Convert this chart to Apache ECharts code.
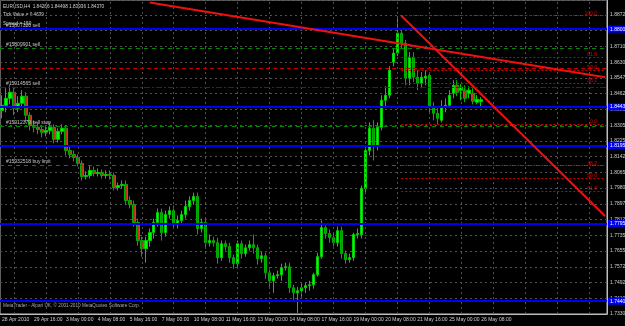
<!DOCTYPE html>
<html>
<head>
<meta charset="utf-8">
<script src="https://cdn.jsdelivr.net/npm/echarts@6/dist/echarts.min.js"></script>
<style>
html, body {margin: 0; padding: 0; background: #000;}
#main {width: 625px; height: 326px;}
</style>
</head>
<body>
<div id="main"></div>
<script>
// time labels, one every 8 H4 bars
var xLabels = ['28 Apr 2010', '29 Apr 16:00', '3 May 00:00', '4 May 08:00', '5 May 16:00', '7 May 00:00', '10 May 08:00', '11 May 16:00',
    '13 May 00:00', '14 May 08:00', '17 May 16:00', '19 May 00:00', '20 May 08:00', '21 May 16:00', '25 May 00:00', '26 May 08:00'];
// price scale labels, bottom to top
var yLabels = ['1.73300', '1.74100', '1.74925', '1.75725', '1.76550', '1.77350', '1.78125', '1.78975', '1.79800', '1.80650',
    '1.81425', '1.82250', '1.83050', '1.83850', '1.84625', '1.85475', '1.86300', '1.87100', '1.87900', '1.88725'];

var opens = [1.8382, 1.8408, 1.8444, 1.8475, 1.8393, 1.8419, 1.8455, 1.8357, 1.8305, 1.8295,
    1.8284, 1.8269, 1.8279, 1.8295, 1.8233, 1.8274, 1.8290, 1.8176, 1.8155, 1.8140,
    1.8109, 1.8042, 1.8047, 1.8073, 1.8057, 1.8062, 1.8047, 1.8052, 1.8047, 1.7985,
    1.7995, 1.8001, 1.7918, 1.7897, 1.7805, 1.7712, 1.7670, 1.7712, 1.7753, 1.7805,
    1.7856, 1.7753, 1.7846, 1.7866, 1.7794, 1.7815, 1.7846, 1.7887, 1.7918, 1.7939,
    1.7774, 1.7805, 1.7701, 1.7712, 1.7701, 1.7624, 1.7696, 1.7681, 1.7624, 1.7593,
    1.7696, 1.7645, 1.7675, 1.7691, 1.7675, 1.7619, 1.7634, 1.7546, 1.7505, 1.7531,
    1.7536, 1.7572, 1.7577, 1.7469, 1.7443, 1.7454, 1.7469, 1.7480, 1.7485, 1.7536,
    1.7629, 1.7779, 1.7748, 1.7727, 1.7701, 1.7763, 1.7645, 1.7614, 1.7624, 1.7743,
    1.7743, 1.7980, 1.8176, 1.8290, 1.8202, 1.8295, 1.8434, 1.8460, 1.8630, 1.8677,
    1.8780, 1.8728, 1.8548, 1.8656, 1.8553, 1.8522, 1.8548, 1.8563, 1.8398, 1.8367,
    1.8331, 1.8398, 1.8408, 1.8470, 1.8511, 1.8486, 1.8486, 1.8470, 1.8470, 1.8424,
    1.84266];
var closes = [1.8408, 1.8444, 1.8475, 1.8393, 1.8419, 1.8455, 1.8357, 1.8305, 1.8295, 1.8284,
    1.8269, 1.8279, 1.8295, 1.8233, 1.8274, 1.8290, 1.8176, 1.8155, 1.8140, 1.8109,
    1.8042, 1.8047, 1.8073, 1.8057, 1.8062, 1.8047, 1.8052, 1.8047, 1.7985, 1.7995,
    1.8001, 1.7918, 1.7897, 1.7805, 1.7712, 1.7670, 1.7712, 1.7753, 1.7805, 1.7856,
    1.7753, 1.7846, 1.7866, 1.7794, 1.7815, 1.7846, 1.7887, 1.7918, 1.7939, 1.7774,
    1.7805, 1.7701, 1.7712, 1.7701, 1.7624, 1.7696, 1.7681, 1.7624, 1.7593, 1.7696,
    1.7645, 1.7675, 1.7691, 1.7675, 1.7619, 1.7634, 1.7546, 1.7505, 1.7531, 1.7536,
    1.7572, 1.7577, 1.7469, 1.7443, 1.7454, 1.7469, 1.7480, 1.7485, 1.7536, 1.7629,
    1.7779, 1.7748, 1.7727, 1.7701, 1.7763, 1.7645, 1.7614, 1.7624, 1.7743, 1.7748,
    1.7980, 1.8176, 1.8290, 1.8202, 1.8295, 1.8434, 1.8460, 1.8589, 1.8677, 1.8780,
    1.8728, 1.8548, 1.8656, 1.8553, 1.8522, 1.8553, 1.8558, 1.8398, 1.8367, 1.8341,
    1.8398, 1.8408, 1.8460, 1.8511, 1.8475, 1.8501, 1.8444, 1.8486, 1.8429, 1.8439,
    1.84370];
var lows = [1.8341, 1.8372, 1.8413, 1.8357, 1.8372, 1.8393, 1.8320, 1.8279, 1.8269, 1.8259,
    1.8243, 1.8248, 1.8259, 1.8212, 1.8217, 1.8259, 1.8150, 1.8135, 1.8119, 1.8093,
    1.8021, 1.8026, 1.8031, 1.8042, 1.8042, 1.8031, 1.8031, 1.8026, 1.7970, 1.7970,
    1.7980, 1.7897, 1.7877, 1.7784, 1.7686, 1.7629, 1.7598, 1.7681, 1.7722, 1.7784,
    1.7712, 1.7732, 1.7825, 1.7774, 1.7774, 1.7794, 1.7825, 1.7866, 1.7897, 1.7743,
    1.7753, 1.7670, 1.7681, 1.7681, 1.7593, 1.7608, 1.7660, 1.7598, 1.7567, 1.7577,
    1.7619, 1.7629, 1.7660, 1.7645, 1.7588, 1.7598, 1.7516, 1.7474, 1.7443, 1.7516,
    1.7505, 1.7557, 1.7443, 1.7402, 1.7340, 1.7423, 1.7443, 1.7454, 1.7464, 1.7526,
    1.7619, 1.7722, 1.7701, 1.7681, 1.7681, 1.7619, 1.7593, 1.7598, 1.7608, 1.7722,
    1.7722, 1.7959, 1.8150, 1.8124, 1.8176, 1.8279, 1.8393, 1.8444, 1.8609, 1.8661,
    1.8702, 1.8511, 1.8511, 1.8527, 1.8486, 1.8496, 1.8511, 1.8372, 1.8331, 1.8310,
    1.8320, 1.8372, 1.8393, 1.8444, 1.8455, 1.8434, 1.8424, 1.8444, 1.8413, 1.8413,
    1.83936];
var highs = [1.8460, 1.8496, 1.8511, 1.8496, 1.8455, 1.8486, 1.8475, 1.8372, 1.8331, 1.8320,
    1.8305, 1.8300, 1.8320, 1.8310, 1.8290, 1.8310, 1.8305, 1.8197, 1.8176, 1.8155,
    1.8124, 1.8068, 1.8099, 1.8093, 1.8083, 1.8078, 1.8073, 1.8073, 1.8062, 1.8011,
    1.8021, 1.8021, 1.7939, 1.7918, 1.7825, 1.7732, 1.7732, 1.7774, 1.7825, 1.7877,
    1.7877, 1.7866, 1.7887, 1.7892, 1.7841, 1.7866, 1.7918, 1.7939, 1.7959, 1.7959,
    1.7825, 1.7825, 1.7743, 1.7732, 1.7727, 1.7712, 1.7712, 1.7701, 1.7639, 1.7712,
    1.7712, 1.7691, 1.7712, 1.7743, 1.7691, 1.7655, 1.7650, 1.7562, 1.7546, 1.7557,
    1.7593, 1.7598, 1.7598, 1.7485, 1.7474, 1.7490, 1.7495, 1.7505, 1.7546, 1.7650,
    1.7815, 1.7789, 1.7768, 1.7748, 1.7784, 1.7784, 1.7660, 1.7645, 1.7753, 1.7774,
    1.7995, 1.8197, 1.8320, 1.8331, 1.8320, 1.8460, 1.8506, 1.8609, 1.8702, 1.8867,
    1.8805, 1.8744, 1.8682, 1.8682, 1.8589, 1.8579, 1.8589, 1.8579, 1.8424, 1.8393,
    1.8434, 1.8444, 1.8486, 1.8537, 1.8537, 1.8517, 1.8511, 1.8506, 1.8496, 1.8460,
    1.84498];

// horizontal objects on the chart
var blueLevels = [1.8800, 1.8443, 1.8195, 1.7795, 1.7440];
var orderLevels = [1.8785, 1.8695, 1.8491, 1.8284, 1.8052];
var orderNames = ['#15807320 sell', '#15809901 sell', '#15914565 sell', '#15912379 sell stop', '#15932518 buy limit'];
var extraLevels = [1.8599, 1.8429];
var fibLevels = [1.8869, 1.8655, 1.8590, 1.8524, 1.8310, 1.8097, 1.8031, 1.7965];
var fibNames = ['100.0', '61.8', '50.0', '38.2', '0.0', '38.2', '50.0', '61.8'];
// trend lines: [bar, price] pairs
var trend1 = [[37, 1.8937], [151, 1.8553]];
var trend2 = [[100, 1.8869], [151, 1.7838]];

var FONT = '"Liberation Sans", Arial, sans-serif';
var yMin = 1.7334, yStep = 0.0081, nSlots = 152;

var cats = [];
for (var i = 0; i < nSlots; i++) {
    cats.push(i);
}
var candles = [];
for (var i = 0; i < opens.length; i++) {
    candles.push([opens[i], closes[i], lows[i], highs[i]]);
}

var marks = [];
// vertical grid, one line per time label
for (var i = 3; i < nSlots; i += 8) {
    marks.push({xAxis: i, lineStyle: {color: '#505050', width: 1, type: [2, 3]}, label: {show: false}});
}
for (var i = 0; i < orderLevels.length; i++) {
    var red = i == 2;
    marks.push({
        yAxis: orderLevels[i],
        lineStyle: {color: red ? '#900000' : '#008a00', width: 1, type: red ? [6, 2, 2, 2] : [4, 4]},
        label: {show: true, position: 'insideStartTop', distance: [6, 1], formatter: orderNames[i],
            color: '#c8c8c8', fontSize: 5, fontFamily: FONT}
    });
}
marks.push({yAxis: extraLevels[0], lineStyle: {color: '#c00000', width: 1, type: [4, 3]}, label: {show: false}});
marks.push({yAxis: extraLevels[1], lineStyle: {color: '#008a00', width: 1, type: [4, 4]}, label: {show: false}});
for (var i = 0; i < fibLevels.length; i++) {
    marks.push([
        {coord: [100, fibLevels[i]], lineStyle: {color: '#c80000', width: 1, type: [2, 2]},
            label: {show: true, position: 'insideEndTop', distance: [8, 0], formatter: fibNames[i],
                color: '#e00000', fontSize: 5, fontFamily: FONT}},
        {coord: [151, fibLevels[i]]}
    ]);
}
for (var i = 0; i < blueLevels.length; i++) {
    marks.push({
        yAxis: blueLevels[i],
        lineStyle: {color: '#0000f0', width: 2, type: 'solid'},
        label: {show: true, position: 'end', distance: 1, formatter: blueLevels[i].toFixed(5),
            color: '#ffffff', backgroundColor: '#0000f0', padding: [1, 2], fontSize: 5, fontFamily: FONT}
    });
}
marks.push([{coord: trend1[0], lineStyle: {color: '#f01010', width: 2, type: 'solid'}, label: {show: false}}, {coord: trend1[1]}]);
marks.push([{coord: trend2[0], lineStyle: {color: '#f01010', width: 2, type: 'solid'}, label: {show: false}}, {coord: trend2[1]}]);

var chart = echarts.init(document.getElementById('main'));
chart.setOption({
    backgroundColor: '#000000',
    animation: false,
    grid: {left: 0, right: 18, top: 0, bottom: 12, outerBoundsMode: 'none', containLabel: false,
        show: true, borderColor: '#bdbdbd', borderWidth: 1, backgroundColor: '#000'},
    graphic: [{
        type: 'text', x: 3, y: 2, scaleX: 0.78,
        style: {text: 'EURUSD,H4  1.84266 1.84498 1.83936 1.84370\nTick Value = 0.4639\nSpread = 150',
            fill: '#d0d0d0', font: '6px ' + FONT, lineHeight: 8.5}
    }, {
        type: 'text', x: 3, y: 302, scaleX: 0.78,
        style: {text: 'MetaTrader - Alpari UK, \u00a9 2001-2010 MetaQuotes Software Corp.', fill: '#a8a8a8', font: '6px ' + FONT}
    }],
    xAxis: {
        type: 'category',
        data: cats,
        boundaryGap: true,
        axisLine: {show: true, lineStyle: {color: '#bdbdbd'}},
        axisTick: {show: false},
        axisLabel: {
            interval: 7, align: 'left', margin: 3, color: '#d0d0d0', fontSize: 5, fontFamily: FONT,
            showMinLabel: true, hideOverlap: false,
            formatter: function (v, idx) {
                return xLabels[idx / 8] || '';
            }
        },
        splitLine: {show: false}
    },
    yAxis: {
        type: 'value',
        position: 'right',
        min: yMin,
        max: 1.8950,
        interval: yStep,
        scale: true,
        axisLine: {show: true, lineStyle: {color: '#bdbdbd'}},
        axisTick: {show: false},
        axisLabel: {
            margin: 3, color: '#d0d0d0', fontSize: 5, fontFamily: FONT, showMaxLabel: false,
            formatter: function (v) {
                return yLabels[Math.round((v - yMin) / yStep)] || '';
            }
        },
        splitLine: {show: true, lineStyle: {color: '#505050', type: [2, 3]}}
    },
    series: [{
        type: 'candlestick',
        data: candles,
        barWidth: 3,
        itemStyle: {color: '#00ff00', color0: '#c0301c', borderColor: '#00d000', borderColor0: '#00b000', borderWidth: 1},
        markLine: {symbol: 'none', silent: true, animation: false, data: marks}
    }]
});
</script>
</body>
</html>
